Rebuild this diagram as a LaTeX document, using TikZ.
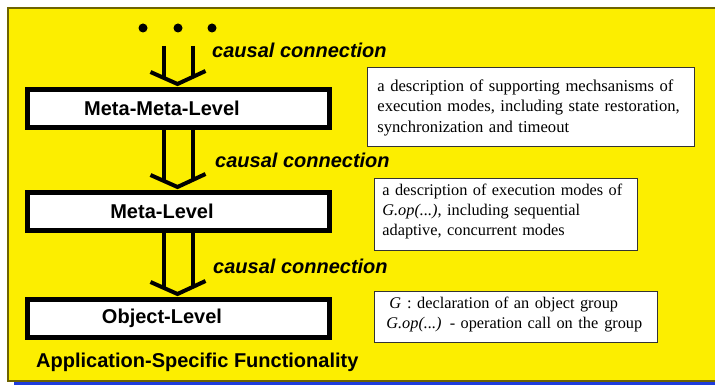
\documentclass[tikz,border=0pt]{standalone}
\usepackage{fontspec}
\setmainfont{Liberation Serif}
\setsansfont{Liberation Sans}
\usetikzlibrary{calc}
\definecolor{bgyellow}{RGB}{252,238,0}
\definecolor{edgeolive}{RGB}{110,100,0}
\definecolor{barblue}{RGB}{30,60,220}
\newcommand{\topstrut}[1]{\rule{0pt}{#1pt}}
\newcommand{\botstrut}[1]{\rule[-#1pt]{0pt}{#1pt}}
\begin{document}
\begin{tikzpicture}[x=1pt,y=-1pt,
  levelbox/.style={draw=black, line width=5pt, fill=white, minimum width=302pt,
    minimum height=38pt, inner sep=0pt, font=\fontsize{20}{24}\selectfont\sffamily\bfseries},
  desc/.style={draw=black!80, line width=0.8pt, fill=white, anchor=north west, align=left,
    inner ysep=0pt, font=\fontsize{16.6}{20.5}\selectfont},
  descsmall/.style={desc, font=\fontsize{16.3}{20.3}\selectfont},
  causal/.style={anchor=west, inner sep=0pt, font=\fontsize{20}{24}\selectfont\sffamily\bfseries\itshape},
  shaft/.style={line width=4pt},
  chev/.style={line width=4pt, line join=miter}]
\useasboundingbox (0,0) rectangle (715,385);
% background
\fill[bgyellow] (8,8) rectangle (715,381);
\draw[edgeolive, line width=2pt] (716,8) -- (8,8) -- (8,381) -- (716,381);
\fill[barblue] (14,382) rectangle (715,385);
% dots
\fill (143,28) circle (4.5);
\fill (178,28) circle (4.5);
\fill (212,28) circle (4.5);
\coordinate (top) at (178.5,46);
% level boxes
\node[levelbox] (mm) at (178.5,108.5) {\hspace*{-33pt}Meta-Meta-Level};
\node[levelbox] (ml) at (178.5,211.5) {\hspace*{-33pt}Meta-Level};
\node[levelbox] (ol) at (178.5,318.5) {\hspace*{-33pt}Object-Level};
% arrows
\draw[shaft] ($(top)+(-14.5,0)$) -- ($(mm.north)+(-14.5,-9)$);
\draw[shaft] ($(top)+(14.5,0)$) -- ($(mm.north)+(14.5,-9)$);
\draw[chev] ($(mm.north)+(-28,-15)$) -- ($(mm.north)+(-1,-3)$) -- ($(mm.north)+(27,-16)$);
\draw[shaft] ($(mm.south)+(-14.5,0)$) -- ($(ml.north)+(-14.5,-9)$);
\draw[shaft] ($(mm.south)+(14.5,0)$) -- ($(ml.north)+(14.5,-9)$);
\draw[chev] ($(ml.north)+(-28,-15)$) -- ($(ml.north)+(-1,-3)$) -- ($(ml.north)+(27,-16)$);
\draw[shaft] ($(ml.south)+(-14.5,0)$) -- ($(ol.north)+(-14.5,-9)$);
\draw[shaft] ($(ml.south)+(14.5,0)$) -- ($(ol.north)+(14.5,-9)$);
\draw[chev] ($(ol.north)+(-28,-15)$) -- ($(ol.north)+(-1,-3)$) -- ($(ol.north)+(27,-16)$);
% labels
\node[causal] (c1) at (212,50) {causal connection};
\node[causal] (c2) at (215,160) {causal connection};
\node[causal] (c3) at (213,266) {causal connection};
\node[anchor=west, inner sep=0pt, font=\fontsize{20}{24}\selectfont\sffamily\bfseries] (app) at (36,362) {Application-Specific Functionality};
% descriptions
\node[desc, text width=307pt, inner xsep=10pt] (d1) at (367,67)
  {\mbox{\topstrut{23.8}a description of supporting mechsanisms of}\\
   \mbox{execution modes, including state restoration,}\\
   \mbox{synchronization and timeout\botstrut{14.2}}};
\node[descsmall, text width=247pt, inner xsep=8pt] (d2) at (374,178)
  {\mbox{\topstrut{16.8}a description of execution modes of}\\
   \mbox{\textit{G.op(...)}, including sequential}\\
   \mbox{adaptive, concurrent modes\botstrut{14.4}}};
\node[descsmall, text width=259pt, inner xsep=12pt] (d3) at (374,291)
  {\mbox{\topstrut{16.8}\hspace*{3pt}\textit{G}\hspace{6pt}: declaration of an object group}\\
   \mbox{\textit{G.op(...)} - operation call on the\hspace{6pt}group\botstrut{13.9}}};
\end{tikzpicture}
\end{document}
